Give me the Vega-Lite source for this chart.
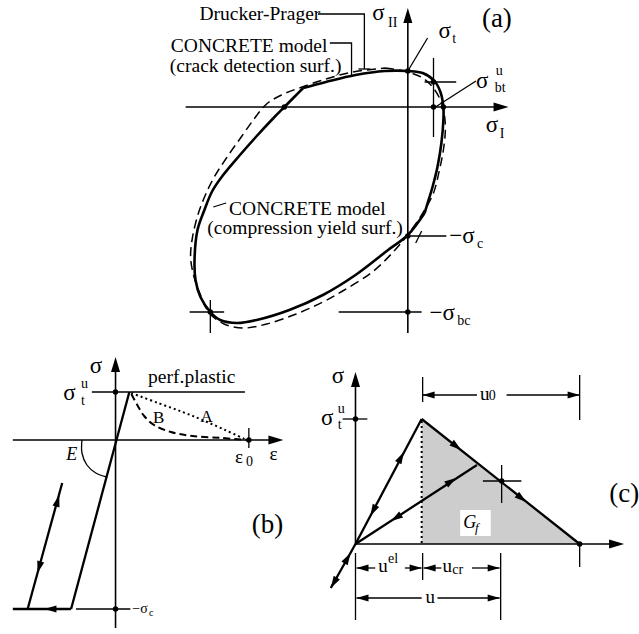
{
  "$schema": "https://vega.github.io/schema/vega-lite/v6.json",
  "width": 639,
  "height": 634,
  "autosize": {"type": "fit", "contains": "padding"},
  "padding": 0,
  "background": "white",
  "config": {"view": {"stroke": null}},
  "datasets": {
    "shade": [
      {"x": 427, "y": 419, "y2": 544},
      {"x": 587, "y": 544, "y2": 544}
    ],
    "box": [{"x": 466, "x2": 497, "y": 510, "y2": 536}],
    "thinLines": [
      {"id": "dp", "i": 0, "x": 322, "y": 14}, {"id": "dp", "i": 1, "x": 369, "y": 14}, {"id": "dp", "i": 2, "x": 369, "y": 69},
      {"id": "dpTick", "i": 0, "x": 363, "y": 69}, {"id": "dpTick", "i": 1, "x": 375, "y": 69},
      {"id": "cm", "i": 0, "x": 334, "y": 43}, {"id": "cm", "i": 1, "x": 356, "y": 43}, {"id": "cm", "i": 2, "x": 356, "y": 77},
      {"id": "st", "i": 0, "x": 413, "y": 71}, {"id": "st", "i": 1, "x": 433, "y": 38},
      {"id": "sbt", "i": 0, "x": 441, "y": 107}, {"id": "sbt", "i": 1, "x": 482, "y": 81},
      {"id": "cr1v", "i": 0, "x": 439, "y": 58}, {"id": "cr1v", "i": 1, "x": 439, "y": 137},
      {"id": "cr1h", "i": 0, "x": 430, "y": 82}, {"id": "cr1h", "i": 1, "x": 462, "y": 82},
      {"id": "sc", "i": 0, "x": 413, "y": 236}, {"id": "sc", "i": 1, "x": 452, "y": 236},
      {"id": "scTick", "i": 0, "x": 421, "y": 243}, {"id": "scTick", "i": 1, "x": 427, "y": 231},
      {"id": "sbc", "i": 0, "x": 343, "y": 312}, {"id": "sbc", "i": 1, "x": 427, "y": 312},
      {"id": "cr2h", "i": 0, "x": 192, "y": 312}, {"id": "cr2h", "i": 1, "x": 227, "y": 312},
      {"id": "cr2v", "i": 0, "x": 213, "y": 300}, {"id": "cr2v", "i": 1, "x": 213, "y": 333},
      {"id": "compLeader", "i": 0, "x": 216, "y": 207}, {"id": "compLeader", "i": 1, "x": 229, "y": 203},
      {"id": "stb", "i": 0, "x": 93, "y": 392}, {"id": "stb", "i": 1, "x": 131, "y": 392},
      {"id": "scb", "i": 0, "x": 77, "y": 609}, {"id": "scb", "i": 1, "x": 132, "y": 609},
      {"id": "e0tick", "i": 0, "x": 252, "y": 428}, {"id": "e0tick", "i": 1, "x": 252, "y": 448},
      {"id": "stc", "i": 0, "x": 347, "y": 419}, {"id": "stc", "i": 1, "x": 372, "y": 419},
      {"id": "crh", "i": 0, "x": 489, "y": 481}, {"id": "crh", "i": 1, "x": 528, "y": 481},
      {"id": "crv", "i": 0, "x": 508, "y": 465}, {"id": "crv", "i": 1, "x": 508, "y": 503},
      {"id": "t1", "i": 0, "x": 428, "y": 377}, {"id": "t1", "i": 1, "x": 428, "y": 402},
      {"id": "t2", "i": 0, "x": 587, "y": 375}, {"id": "t2", "i": 1, "x": 587, "y": 420},
      {"id": "t3", "i": 0, "x": 360, "y": 553}, {"id": "t3", "i": 1, "x": 360, "y": 620},
      {"id": "t4", "i": 0, "x": 428, "y": 553}, {"id": "t4", "i": 1, "x": 428, "y": 580},
      {"id": "t5", "i": 0, "x": 507, "y": 553}, {"id": "t5", "i": 1, "x": 507, "y": 620},
      {"id": "t6", "i": 0, "x": 587, "y": 544}, {"id": "t6", "i": 1, "x": 587, "y": 567},
      {"id": "u0a", "i": 0, "x": 428, "y": 395}, {"id": "u0a", "i": 1, "x": 483, "y": 395},
      {"id": "u0b", "i": 0, "x": 513, "y": 395}, {"id": "u0b", "i": 1, "x": 587, "y": 395},
      {"id": "uela", "i": 0, "x": 361, "y": 568}, {"id": "uela", "i": 1, "x": 380, "y": 568},
      {"id": "uelb", "i": 0, "x": 410, "y": 568}, {"id": "uelb", "i": 1, "x": 427, "y": 568},
      {"id": "ucra", "i": 0, "x": 429, "y": 568}, {"id": "ucra", "i": 1, "x": 447, "y": 568},
      {"id": "ucrb", "i": 0, "x": 478, "y": 568}, {"id": "ucrb", "i": 1, "x": 506, "y": 568},
      {"id": "ua", "i": 0, "x": 361, "y": 598}, {"id": "ua", "i": 1, "x": 427, "y": 598},
      {"id": "ub", "i": 0, "x": 443, "y": 598}, {"id": "ub", "i": 1, "x": 506, "y": 598}
    ],
    "axisLines": [
      {"id": "ax", "i": 0, "x": 188, "y": 107}, {"id": "ax", "i": 1, "x": 508, "y": 107},
      {"id": "ay", "i": 0, "x": 413, "y": 14}, {"id": "ay", "i": 1, "x": 413, "y": 333},
      {"id": "bx", "i": 0, "x": 13, "y": 440}, {"id": "bx", "i": 1, "x": 280, "y": 440},
      {"id": "by", "i": 0, "x": 117, "y": 365}, {"id": "by", "i": 1, "x": 117, "y": 628},
      {"id": "cx", "i": 0, "x": 360, "y": 544}, {"id": "cx", "i": 1, "x": 625, "y": 544},
      {"id": "cy", "i": 0, "x": 360, "y": 380}, {"id": "cy", "i": 1, "x": 360, "y": 544},
      {"id": "perf", "i": 0, "x": 131, "y": 392}, {"id": "perf", "i": 1, "x": 248, "y": 392}
    ],
    "thickLines": [
      {"id": "bElastic", "i": 0, "x": 131, "y": 392}, {"id": "bElastic", "i": 1, "x": 72, "y": 609},
      {"id": "bBottom", "i": 0, "x": 13, "y": 609}, {"id": "bBottom", "i": 1, "x": 72, "y": 609},
      {"id": "bUnload", "i": 0, "x": 28, "y": 609}, {"id": "bUnload", "i": 1, "x": 63, "y": 483},
      {"id": "cLoad", "i": 0, "x": 360, "y": 544}, {"id": "cLoad", "i": 1, "x": 427, "y": 419},
      {"id": "cSoft", "i": 0, "x": 427, "y": 419}, {"id": "cSoft", "i": 1, "x": 587, "y": 544},
      {"id": "cUnload", "i": 0, "x": 360, "y": 544}, {"id": "cUnload", "i": 1, "x": 483, "y": 465},
      {"id": "cExt", "i": 0, "x": 360, "y": 544}, {"id": "cExt", "i": 1, "x": 335, "y": 588}
    ],
    "solidCurves": [
      {"id": "crack", "i": 0, "x": 307, "y": 88}, {"id": "crack", "i": 1, "x": 330, "y": 82},
      {"id": "crack", "i": 2, "x": 360, "y": 75}, {"id": "crack", "i": 3, "x": 390, "y": 71},
      {"id": "crack", "i": 4, "x": 413, "y": 71}, {"id": "crack", "i": 5, "x": 428, "y": 73},
      {"id": "crack", "i": 6, "x": 440, "y": 81}, {"id": "crack", "i": 7, "x": 446, "y": 92},
      {"id": "crack", "i": 8, "x": 449, "y": 107}, {"id": "crack", "i": 9, "x": 449, "y": 120},
      {"id": "crack", "i": 10, "x": 447, "y": 143}, {"id": "crack", "i": 11, "x": 443, "y": 167},
      {"id": "crack", "i": 12, "x": 438, "y": 187}, {"id": "crack", "i": 13, "x": 434, "y": 200},
      {"id": "crack", "i": 14, "x": 430, "y": 213},
      {"id": "comp", "i": 0, "x": 430, "y": 213}, {"id": "comp", "i": 1, "x": 413, "y": 235},
      {"id": "comp", "i": 2, "x": 393, "y": 250}, {"id": "comp", "i": 3, "x": 360, "y": 275},
      {"id": "comp", "i": 4, "x": 327, "y": 295}, {"id": "comp", "i": 5, "x": 293, "y": 310},
      {"id": "comp", "i": 6, "x": 260, "y": 320}, {"id": "comp", "i": 7, "x": 240, "y": 323},
      {"id": "comp", "i": 8, "x": 223, "y": 320}, {"id": "comp", "i": 9, "x": 213, "y": 312},
      {"id": "comp", "i": 10, "x": 203, "y": 297}, {"id": "comp", "i": 11, "x": 198, "y": 280},
      {"id": "comp", "i": 12, "x": 197, "y": 260}, {"id": "comp", "i": 13, "x": 200, "y": 230},
      {"id": "comp", "i": 14, "x": 207, "y": 210}, {"id": "comp", "i": 15, "x": 215, "y": 191},
      {"id": "comp", "i": 16, "x": 226, "y": 175}, {"id": "comp", "i": 17, "x": 243, "y": 155},
      {"id": "comp", "i": 18, "x": 260, "y": 136}, {"id": "comp", "i": 19, "x": 277, "y": 118},
      {"id": "comp", "i": 20, "x": 288, "y": 107}, {"id": "comp", "i": 21, "x": 297, "y": 98},
      {"id": "comp", "i": 22, "x": 307, "y": 88}
    ],
    "dashedCurves": [
      {"id": "dp", "i": 0, "x": 390, "y": 68}, {"id": "dp", "i": 1, "x": 413, "y": 72},
      {"id": "dp", "i": 2, "x": 428, "y": 78}, {"id": "dp", "i": 3, "x": 438, "y": 87},
      {"id": "dp", "i": 4, "x": 446, "y": 100}, {"id": "dp", "i": 5, "x": 450, "y": 115},
      {"id": "dp", "i": 6, "x": 451, "y": 130}, {"id": "dp", "i": 7, "x": 449, "y": 150},
      {"id": "dp", "i": 8, "x": 445, "y": 170}, {"id": "dp", "i": 9, "x": 439, "y": 193},
      {"id": "dp", "i": 10, "x": 430, "y": 210}, {"id": "dp", "i": 11, "x": 418, "y": 228},
      {"id": "dp", "i": 12, "x": 400, "y": 250}, {"id": "dp", "i": 13, "x": 377, "y": 272},
      {"id": "dp", "i": 14, "x": 347, "y": 291}, {"id": "dp", "i": 15, "x": 327, "y": 302},
      {"id": "dp", "i": 16, "x": 300, "y": 314}, {"id": "dp", "i": 17, "x": 270, "y": 324},
      {"id": "dp", "i": 18, "x": 247, "y": 328}, {"id": "dp", "i": 19, "x": 227, "y": 324},
      {"id": "dp", "i": 20, "x": 212, "y": 313}, {"id": "dp", "i": 21, "x": 203, "y": 295},
      {"id": "dp", "i": 22, "x": 196, "y": 275}, {"id": "dp", "i": 23, "x": 193, "y": 257},
      {"id": "dp", "i": 24, "x": 195, "y": 237}, {"id": "dp", "i": 25, "x": 201, "y": 213},
      {"id": "dp", "i": 26, "x": 208, "y": 195}, {"id": "dp", "i": 27, "x": 217, "y": 177},
      {"id": "dp", "i": 28, "x": 230, "y": 157}, {"id": "dp", "i": 29, "x": 245, "y": 136},
      {"id": "dp", "i": 30, "x": 258, "y": 118}, {"id": "dp", "i": 31, "x": 270, "y": 104},
      {"id": "dp", "i": 32, "x": 285, "y": 95}, {"id": "dp", "i": 33, "x": 303, "y": 88},
      {"id": "dp", "i": 34, "x": 330, "y": 79}, {"id": "dp", "i": 35, "x": 357, "y": 72},
      {"id": "dp", "i": 36, "x": 390, "y": 68}
    ],
    "curveB": [
      {"id": "B", "i": 0, "x": 133, "y": 394}, {"id": "B", "i": 1, "x": 139, "y": 405},
      {"id": "B", "i": 2, "x": 146, "y": 416}, {"id": "B", "i": 3, "x": 156, "y": 425},
      {"id": "B", "i": 4, "x": 173, "y": 432}, {"id": "B", "i": 5, "x": 195, "y": 436},
      {"id": "B", "i": 6, "x": 225, "y": 438}, {"id": "B", "i": 7, "x": 250, "y": 440}
    ],
    "dotted": [
      {"id": "A", "i": 0, "x": 133, "y": 393}, {"id": "A", "i": 1, "x": 160, "y": 403},
      {"id": "A", "i": 2, "x": 185, "y": 412}, {"id": "A", "i": 3, "x": 205, "y": 420},
      {"id": "A", "i": 4, "x": 228, "y": 430}, {"id": "A", "i": 5, "x": 250, "y": 440},
      {"id": "cV", "i": 0, "x": 427, "y": 421}, {"id": "cV", "i": 1, "x": 427, "y": 544}
    ],
    "arc": [
      {"id": "E", "i": 0, "x": 83, "y": 440}, {"id": "E", "i": 1, "x": 83, "y": 453},
      {"id": "E", "i": 2, "x": 88, "y": 465}, {"id": "E", "i": 3, "x": 97, "y": 473},
      {"id": "E", "i": 4, "x": 108, "y": 477}
    ],
    "dots": [
      {"x": 413, "y": 71}, {"x": 288, "y": 107}, {"x": 439, "y": 82}, {"x": 439, "y": 107},
      {"x": 449, "y": 107}, {"x": 413, "y": 236}, {"x": 413, "y": 312}, {"x": 213, "y": 312},
      {"x": 117, "y": 392}, {"x": 252, "y": 440}, {"x": 117, "y": 609},
      {"x": 360, "y": 419}, {"x": 508, "y": 481}, {"x": 587, "y": 544}
    ],
    "axisArrows": [
      {"x": 413, "y": 8, "dir": 0}, {"x": 515, "y": 107, "dir": 90},
      {"x": 117, "y": 357, "dir": 0}, {"x": 287, "y": 440, "dir": 90},
      {"x": 360, "y": 372, "dir": 0}, {"x": 632, "y": 544, "dir": 90}
    ],
    "smallArrows": [
      {"x": 45, "y": 609, "dir": 270},
      {"x": 60, "y": 495, "dir": 15.5}, {"x": 38, "y": 573, "dir": 195.5},
      {"x": 409, "y": 452, "dir": 28}, {"x": 375, "y": 516, "dir": 208},
      {"x": 467, "y": 450, "dir": 128}, {"x": 533, "y": 502, "dir": 128},
      {"x": 462, "y": 478, "dir": 57}, {"x": 396, "y": 521, "dir": 237},
      {"x": 355, "y": 553, "dir": 30}, {"x": 335, "y": 588, "dir": 210},
      {"x": 428, "y": 395, "dir": 270}, {"x": 587, "y": 395, "dir": 90},
      {"x": 361, "y": 568, "dir": 270}, {"x": 427, "y": 568, "dir": 90},
      {"x": 429, "y": 568, "dir": 270}, {"x": 506, "y": 568, "dir": 90},
      {"x": 361, "y": 598, "dir": 270}, {"x": 506, "y": 598, "dir": 90}
    ],
    "txtMain": [
      {"t": "Drucker-Prager", "x": 202, "y": 20},
      {"t": "CONCRETE model", "x": 173, "y": 52},
      {"t": "(crack detection surf.)", "x": 172, "y": 72},
      {"t": "CONCRETE model", "x": 232, "y": 215},
      {"t": "(compression yield surf.)", "x": 210, "y": 234},
      {"t": "perf.plastic", "x": 150, "y": 383}
    ],
    "txtSigma": [
      {"t": "σ", "x": 377, "y": 20}, {"t": "σ", "x": 444, "y": 38},
      {"t": "σ", "x": 482, "y": 88}, {"t": "σ", "x": 492, "y": 132},
      {"t": "−σ", "x": 455, "y": 243}, {"t": "−σ", "x": 435, "y": 320},
      {"t": "σ", "x": 91, "y": 373}, {"t": "σ", "x": 64, "y": 400},
      {"t": "σ", "x": 336, "y": 383}, {"t": "σ", "x": 325, "y": 425}
    ],
    "txtSub": [
      {"t": "II", "x": 393, "y": 27}, {"t": "t", "x": 458, "y": 43},
      {"t": "u", "x": 502, "y": 75}, {"t": "bt", "x": 501, "y": 92},
      {"t": "I", "x": 506, "y": 138}, {"t": "c", "x": 483, "y": 248},
      {"t": "bc", "x": 463, "y": 325},
      {"t": "u", "x": 82, "y": 388}, {"t": "t", "x": 82, "y": 405},
      {"t": "0", "x": 249, "y": 466},
      {"t": "u", "x": 342, "y": 413}, {"t": "t", "x": 342, "y": 429},
      {"t": "0", "x": 495, "y": 400}, {"t": "el", "x": 393, "y": 563},
      {"t": "cr", "x": 458, "y": 574}
    ],
    "txtLetters": [
      {"t": "ε", "x": 238, "y": 463}, {"t": "ε", "x": 273, "y": 460},
      {"t": "u", "x": 486, "y": 400}, {"t": "u", "x": 383, "y": 572},
      {"t": "u", "x": 448, "y": 572}, {"t": "u", "x": 431, "y": 603}
    ],
    "txtAB": [
      {"t": "A", "x": 203, "y": 422}, {"t": "B", "x": 155, "y": 423}
    ],
    "txtItalic": [
      {"t": "E", "x": 67, "y": 460}, {"t": "G", "x": 469, "y": 528}
    ],
    "txtItalicSub": [{"t": "f", "x": 481, "y": 532}],
    "txtSmall": [{"t": "−σ", "x": 134, "y": 613}],
    "txtTiny": [{"t": "c", "x": 151, "y": 616}],
    "txtPanel": [
      {"t": "(a)", "x": 488, "y": 27}, {"t": "(b)", "x": 255, "y": 533},
      {"t": "(c)", "x": 617, "y": 502}
    ]
  },
  "encoding": {
    "x": {"field": "x", "type": "quantitative", "scale": {"domain": [0, 639], "nice": false, "zero": false}, "axis": null},
    "y": {"field": "y", "type": "quantitative", "scale": {"domain": [0, 634], "nice": false, "zero": false, "reverse": true}, "axis": null}
  },
  "layer": [
    {
      "data": {"name": "shade"},
      "mark": {"type": "area", "color": "#cdcdcd", "opacity": 1},
      "encoding": {"y2": {"field": "y2"}}
    },
    {
      "data": {"name": "box"},
      "mark": {"type": "rect", "color": "white"},
      "encoding": {"x2": {"field": "x2"}, "y2": {"field": "y2"}}
    },
    {
      "data": {"name": "thinLines"},
      "mark": {"type": "line", "color": "black", "strokeWidth": 1.3},
      "encoding": {"detail": {"field": "id"}, "order": {"field": "i"}}
    },
    {
      "data": {"name": "axisLines"},
      "mark": {"type": "line", "color": "black", "strokeWidth": 1.6},
      "encoding": {"detail": {"field": "id"}, "order": {"field": "i"}}
    },
    {
      "data": {"name": "thickLines"},
      "mark": {"type": "line", "color": "black", "strokeWidth": 2.3},
      "encoding": {"detail": {"field": "id"}, "order": {"field": "i"}}
    },
    {
      "data": {"name": "solidCurves"},
      "mark": {"type": "line", "color": "black", "strokeWidth": 2.6, "interpolate": "catmull-rom"},
      "encoding": {"detail": {"field": "id"}, "order": {"field": "i"}}
    },
    {
      "data": {"name": "dashedCurves"},
      "mark": {"type": "line", "color": "black", "strokeWidth": 1.5, "strokeDash": [9, 5], "interpolate": "catmull-rom"},
      "encoding": {"detail": {"field": "id"}, "order": {"field": "i"}}
    },
    {
      "data": {"name": "curveB"},
      "mark": {"type": "line", "color": "black", "strokeWidth": 2, "strokeDash": [7, 4], "interpolate": "catmull-rom"},
      "encoding": {"detail": {"field": "id"}, "order": {"field": "i"}}
    },
    {
      "data": {"name": "dotted"},
      "mark": {"type": "line", "color": "black", "strokeWidth": 2, "strokeDash": [2, 3], "interpolate": "catmull-rom"},
      "encoding": {"detail": {"field": "id"}, "order": {"field": "i"}}
    },
    {
      "data": {"name": "arc"},
      "mark": {"type": "line", "color": "black", "strokeWidth": 1.3, "interpolate": "catmull-rom"},
      "encoding": {"detail": {"field": "id"}, "order": {"field": "i"}}
    },
    {
      "data": {"name": "dots"},
      "mark": {"type": "point", "filled": true, "shape": "circle", "size": 30, "color": "black", "opacity": 1}
    },
    {
      "data": {"name": "axisArrows"},
      "mark": {"type": "point", "filled": true, "shape": "M0,0L0.3,1L-0.3,1Z", "size": 900, "color": "black", "opacity": 1, "strokeWidth": 0},
      "encoding": {"angle": {"field": "dir", "type": "quantitative", "scale": null}}
    },
    {
      "data": {"name": "smallArrows"},
      "mark": {"type": "point", "filled": true, "shape": "M0,0L0.3,1L-0.3,1Z", "size": 576, "color": "black", "opacity": 1, "strokeWidth": 0},
      "encoding": {"angle": {"field": "dir", "type": "quantitative", "scale": null}}
    },
    {
      "data": {"name": "txtMain"},
      "mark": {"type": "text", "font": "Liberation Serif", "fontSize": 19.5, "align": "left", "baseline": "alphabetic", "color": "black"},
      "encoding": {"text": {"field": "t"}}
    },
    {
      "data": {"name": "txtSigma"},
      "mark": {"type": "text", "font": "Liberation Serif", "fontSize": 23, "align": "left", "baseline": "alphabetic", "color": "black"},
      "encoding": {"text": {"field": "t"}}
    },
    {
      "data": {"name": "txtSub"},
      "mark": {"type": "text", "font": "Liberation Serif", "fontSize": 14, "align": "left", "baseline": "alphabetic", "color": "black"},
      "encoding": {"text": {"field": "t"}}
    },
    {
      "data": {"name": "txtLetters"},
      "mark": {"type": "text", "font": "Liberation Serif", "fontSize": 19, "align": "left", "baseline": "alphabetic", "color": "black"},
      "encoding": {"text": {"field": "t"}}
    },
    {
      "data": {"name": "txtAB"},
      "mark": {"type": "text", "font": "Liberation Serif", "fontSize": 17, "align": "left", "baseline": "alphabetic", "color": "black"},
      "encoding": {"text": {"field": "t"}}
    },
    {
      "data": {"name": "txtItalic"},
      "mark": {"type": "text", "font": "Liberation Serif", "fontSize": 18, "fontStyle": "italic", "align": "left", "baseline": "alphabetic", "color": "black"},
      "encoding": {"text": {"field": "t"}}
    },
    {
      "data": {"name": "txtItalicSub"},
      "mark": {"type": "text", "font": "Liberation Serif", "fontSize": 13, "fontStyle": "italic", "align": "left", "baseline": "alphabetic", "color": "black"},
      "encoding": {"text": {"field": "t"}}
    },
    {
      "data": {"name": "txtSmall"},
      "mark": {"type": "text", "font": "Liberation Serif", "fontSize": 14, "align": "left", "baseline": "alphabetic", "color": "black"},
      "encoding": {"text": {"field": "t"}}
    },
    {
      "data": {"name": "txtTiny"},
      "mark": {"type": "text", "font": "Liberation Serif", "fontSize": 10, "align": "left", "baseline": "alphabetic", "color": "black"},
      "encoding": {"text": {"field": "t"}}
    },
    {
      "data": {"name": "txtPanel"},
      "mark": {"type": "text", "font": "Liberation Serif", "fontSize": 27, "align": "left", "baseline": "alphabetic", "color": "black"},
      "encoding": {"text": {"field": "t"}}
    }
  ]
}
